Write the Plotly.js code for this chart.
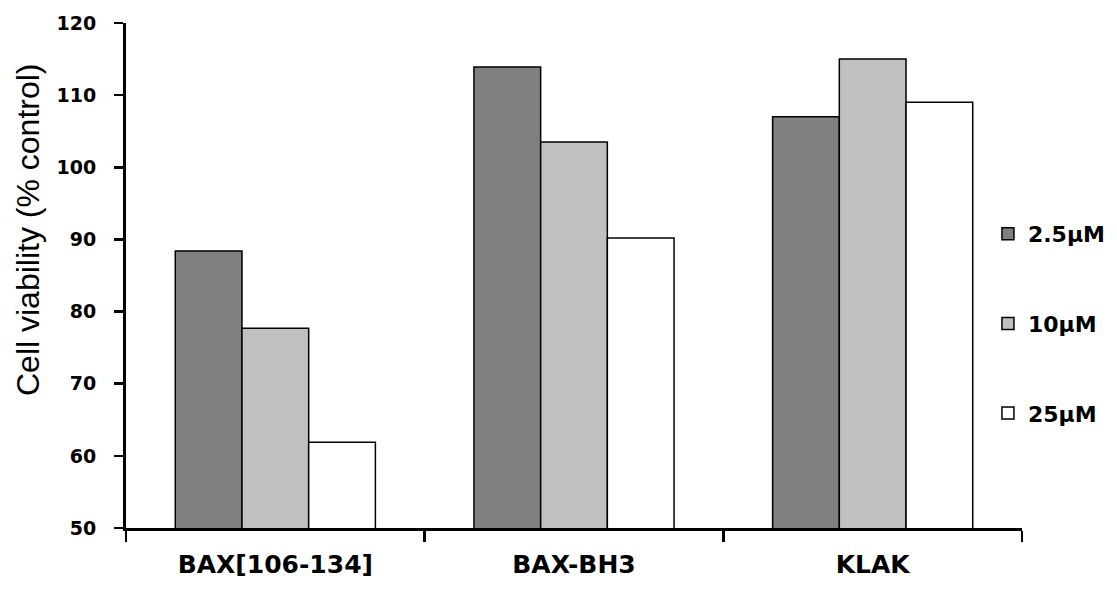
<!DOCTYPE html>
<html>
<head>
<meta charset="utf-8">
<script src="https://cdn.plot.ly/plotly-3.0.1.min.js"></script>
<style>html,body{margin:0;padding:0;background:#fff;}#chart{width:1117px;height:590px;}</style>
</head>
<body>
<div id="chart"></div>
<script>
const categories = ["BAX[106-134]", "BAX-BH3", "KLAK"];
const seriesNames = ["2.5\u00b5M", "10\u00b5M", "25\u00b5M"];
const v25 = [88.4, 113.9, 107.0];
const v10 = [77.7, 103.5, 115.0];
const v250 = [61.9, 90.2, 109.0];
const seriesValues = [v25, v10, v250];
const seriesColors = ["#808080", "#c0c0c0", "#ffffff"];
const yTicks = [50, 60, 70, 80, 90, 100, 110, 120];
const yTitle = "Cell viability (% control)";

const traces = seriesNames.map((name, i) => ({
  type: "bar",
  name: name,
  x: categories,
  y: seriesValues[i],
  legendgroup: "g" + i,
  marker: {color: seriesColors[i], line: {color: "#000", width: 1.5}}
}));

const layout = {
  width: 1117, height: 590,
  margin: {l: 126, r: 95, t: 23, b: 62, autoexpand: false},
  paper_bgcolor: "#fff", plot_bgcolor: "#fff",
  barmode: "group",
  bargap: 0.33, bargroupgap: 0,
  showlegend: true,
  legend: {
    x: 0.962, xanchor: "left", y: 0.405, yanchor: "middle",
    font: {family: "DejaVu Sans, sans-serif", size: 22, color: "#000", weight: "bold"},
    tracegroupgap: 58, bgcolor: "rgba(0,0,0,0)"
  },
  xaxis: {
    type: "category", range: [-0.5, 2.5],
    showline: true, linecolor: "#000", linewidth: 3,
    ticks: "outside", tickson: "boundaries", ticklen: 11, tickwidth: 2.5, tickcolor: "#000",
    ticklabelstandoff: 12,
    tickfont: {family: "DejaVu Sans, sans-serif", size: 25, color: "#000", weight: "bold"},
    showgrid: false, zeroline: false, fixedrange: true
  },
  yaxis: {
    range: [50, 120], tickvals: yTicks, ticktext: yTicks.map(String),
    showline: true, linecolor: "#000", linewidth: 3,
    ticks: "outside", ticklen: 9, tickwidth: 2.5, tickcolor: "#000",
    ticklabelstandoff: 14,
    tickfont: {family: "DejaVu Sans, sans-serif", size: 19, color: "#000", weight: "bold"},
    showgrid: false, zeroline: false, fixedrange: true
  },
  annotations: [{
    text: yTitle, textangle: -90, showarrow: false,
    xref: "paper", yref: "paper",
    x: (28 - 126) / 896, y: (528 - 230) / 505,
    xanchor: "center", yanchor: "middle",
    font: {family: "Liberation Sans, Arial, sans-serif", size: 32, color: "#000"}
  }]
};

Plotly.newPlot("chart", traces, layout, {displayModeBar: false, staticPlot: true});
</script>
</body>
</html>
